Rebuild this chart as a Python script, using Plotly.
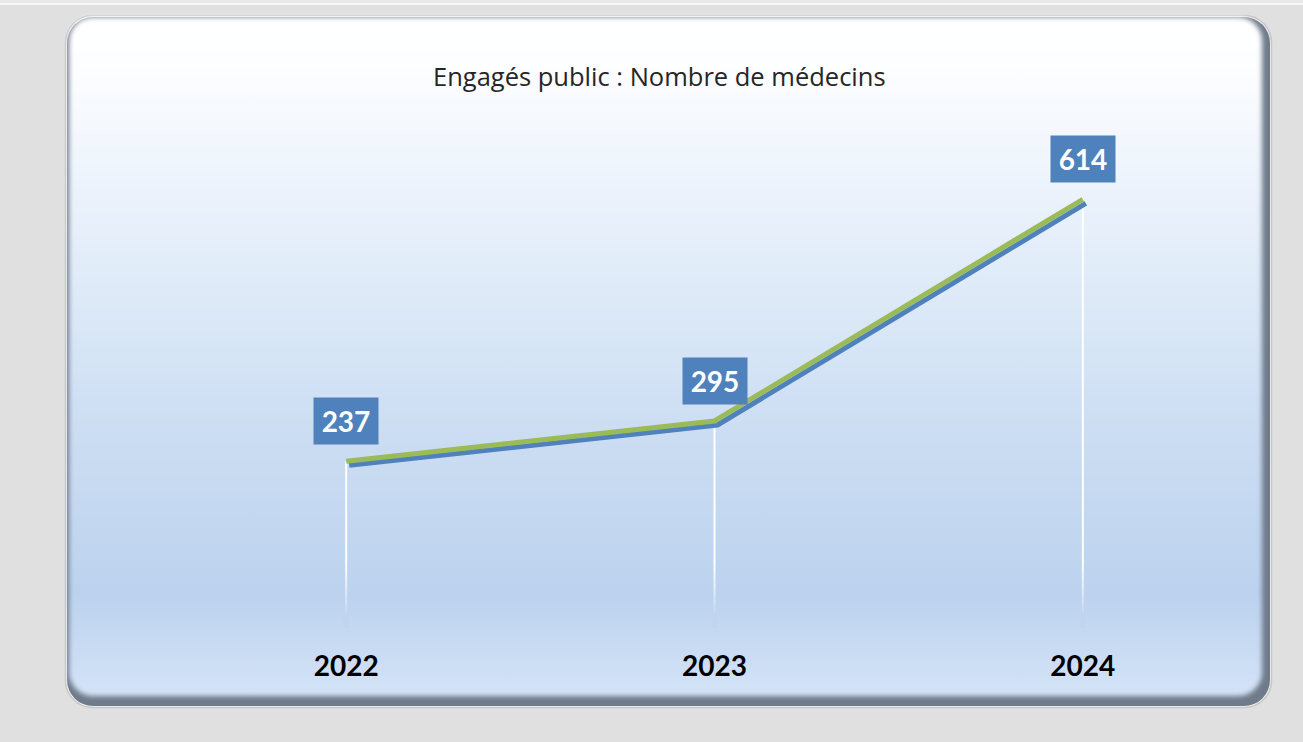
import base64
import plotly.graph_objects as go

# ---- data ----
years = ["2022", "2023", "2024"]
doctors = [237, 295, 614]
title_text = "Engagés public : Nombre de médecins"

# ---- geometry (pixels) ----
W, H = 1303, 742
X_LEFT, X_RIGHT = 162, 1267
Y_TOP, Y_BOT = 139.5, 626
Y_MAX = 700
SHADOW_DX, SHADOW_DY = 3, 4


def fx(p):
    return p / W


def fy(p):
    return 1 - p / H


BLUE = "#4f81bd"
GREEN = "#9bbb59"

svg = f"""<svg xmlns='http://www.w3.org/2000/svg' width='{W}' height='{H}' viewBox='0 0 {W} {H}'>
<defs>
<linearGradient id='g' x1='0' y1='0' x2='0' y2='1'>
<stop offset='0' stop-color='#ffffff'/>
<stop offset='0.07' stop-color='#fdfeff'/>
<stop offset='0.2' stop-color='#f1f6fd'/>
<stop offset='0.4' stop-color='#deeaf8'/>
<stop offset='0.6' stop-color='#cddef3'/>
<stop offset='0.85' stop-color='#bcd2ee'/>
<stop offset='1' stop-color='#d4e3f7'/>
</linearGradient>
<filter id='b' x='-5%' y='-5%' width='110%' height='110%'><feGaussianBlur stdDeviation='2.5'/></filter>
</defs>
<rect x='0' y='0' width='{W}' height='{H}' fill='#e0e0e0'/>
<rect x='0' y='0' width='{W}' height='3' fill='#e9e9e9'/>
<rect x='0' y='3' width='{W}' height='2' fill='#f7f7f7'/>
<rect x='65.5' y='15.5' width='1206' height='692' rx='27' fill='#f4f4f4' stroke='#c6c6c6' stroke-width='1.5'/>
<rect x='67' y='17' width='1203' height='689' rx='26' fill='#6f7b8b'/>
<g filter='url(#b)'>
<rect x='69' y='17' width='1193' height='679' rx='24' fill='url(#g)'/>
</g>
</svg>"""
uri = "data:image/svg+xml;base64," + base64.b64encode(svg.encode("utf-8")).decode("ascii")

fig = go.Figure()

# drop lines (white) from each point to the axis
fig.add_trace(go.Scatter(
    x=years, y=doctors, mode="markers",
    marker=dict(size=1, color="rgba(0,0,0,0)"),
    error_y=dict(type="data", symmetric=False, array=[0] * len(doctors),
                 arrayminus=doctors, color="white", thickness=2, width=0),
    hoverinfo="skip", showlegend=False, xaxis="x", yaxis="y",
))
# blue shadow line (own subplot, shifted a few pixels)
fig.add_trace(go.Scatter(
    x=years, y=doctors, mode="lines",
    line=dict(color=BLUE, width=5),
    hoverinfo="skip", showlegend=False, xaxis="x2", yaxis="y2",
))
# green main line
fig.add_trace(go.Scatter(
    x=years, y=doctors, mode="lines",
    line=dict(color=GREEN, width=5),
    showlegend=False, xaxis="x3", yaxis="y3",
))

for i, v in enumerate(doctors):
    fig.add_annotation(
        x=i, y=v, xref="x", yref="y", text=str(v), showarrow=False,
        yshift=40, bgcolor=BLUE, width=64, height=46, borderpad=0,
        font=dict(family="Lato", size=28, color="white", weight="bold"),
    )

fig.add_annotation(
    x=fx(659.5), y=fy(76), xref="paper", yref="paper", text=title_text,
    showarrow=False, xanchor="center", yanchor="middle",
    font=dict(family="Open Sans", size=25.5, color="#262626"),
)

xdom = [fx(X_LEFT), fx(X_RIGHT)]
ydom = [fy(Y_BOT), fy(Y_TOP)]
xdom2 = [fx(X_LEFT + SHADOW_DX), fx(X_RIGHT + SHADOW_DX)]
ydom2 = [fy(Y_BOT + SHADOW_DY), fy(Y_TOP + SHADOW_DY)]

common_x = dict(type="category", range=[-0.5, len(years) - 0.5], showgrid=False,
                zeroline=False, showline=False, fixedrange=True)
common_y = dict(range=[0, Y_MAX], showgrid=False, zeroline=False, showline=False,
                showticklabels=False, ticks="", fixedrange=True)

# soft fade at the foot of each drop line (narrow strips drawn above the traces)
step = (X_RIGHT - X_LEFT) / len(years)
strips = "".join(
    f"<rect x='{X_LEFT + (i + 0.5) * step - 3:.1f}' y='562' width='6' height='66' fill='url(#f)'/>"
    for i in range(len(years))
)
fade_svg = f"""<svg xmlns='http://www.w3.org/2000/svg' width='{W}' height='{H}' viewBox='0 0 {W} {H}'>
<defs><linearGradient id='f' x1='0' y1='0' x2='0' y2='1'>
<stop offset='0' stop-color='#bdd3ee' stop-opacity='0'/>
<stop offset='0.55' stop-color='#bed3ef' stop-opacity='0.6'/>
<stop offset='0.85' stop-color='#bfd4ef' stop-opacity='1'/>
<stop offset='1' stop-color='#c0d5f0' stop-opacity='1'/>
</linearGradient></defs>
{strips}
</svg>"""
fade_uri = "data:image/svg+xml;base64," + base64.b64encode(fade_svg.encode("utf-8")).decode("ascii")

fig.update_layout(
    width=W, height=H,
    margin=dict(l=0, r=0, t=0, b=0),
    paper_bgcolor="#e0e0e0",
    plot_bgcolor="rgba(0,0,0,0)",
    showlegend=False,
    images=[
        dict(source=uri, xref="paper", yref="paper", x=0, y=1, sizex=1, sizey=1,
             xanchor="left", yanchor="top", sizing="stretch", layer="below"),
        dict(source=fade_uri, xref="paper", yref="paper", x=0, y=1, sizex=1, sizey=1,
             xanchor="left", yanchor="top", sizing="stretch", layer="above"),
    ],
    xaxis=dict(**common_x, domain=xdom, anchor="y", ticks="outside", ticklen=15,
               tickcolor="rgba(0,0,0,0)",
               tickfont=dict(family="Lato", size=28, color="black", weight="bold")),
    yaxis=dict(**common_y, domain=ydom, anchor="x"),
    xaxis2=dict(**common_x, domain=xdom2, anchor="y2", visible=False),
    yaxis2=dict(**common_y, domain=ydom2, anchor="x2", visible=False),
    xaxis3=dict(**common_x, domain=xdom, anchor="y3", visible=False),
    yaxis3=dict(**common_y, domain=ydom, anchor="x3", visible=False),
)

fig.write_html("out.html", config={"displayModeBar": False},
               post_script="document.body.style.margin='0';")
